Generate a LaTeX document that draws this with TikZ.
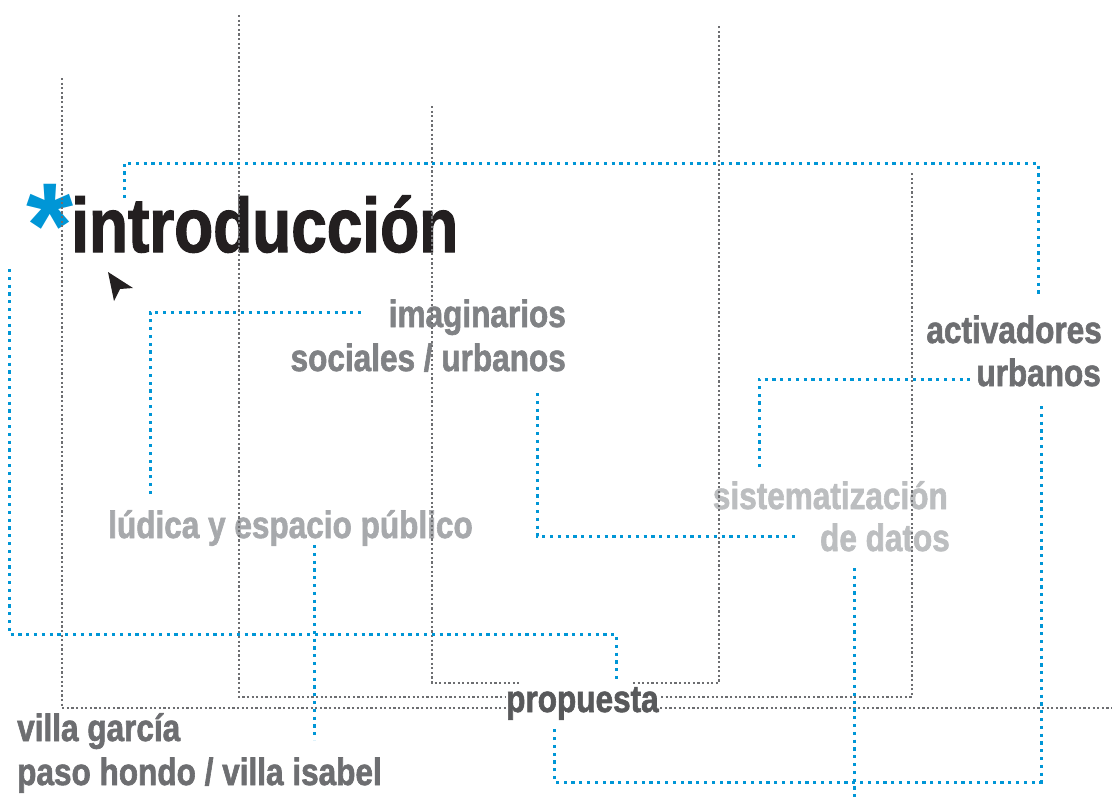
\documentclass[tikz,border=0pt]{standalone}
\usepackage{fontspec}
\newfontfamily\condbf{Liberation Sans Bold}[FakeStretch=0.83, FakeBold=1.6]
\newfontfamily\plainbf{Liberation Sans Bold}

\definecolor{lineblue}{HTML}{0096D6}
\definecolor{linegray}{HTML}{6D6E71}
\definecolor{titleblack}{HTML}{231F20}
\definecolor{graymid}{HTML}{808285}
\definecolor{graydark}{HTML}{6D6E71}
\definecolor{graylight}{HTML}{A7A9AC}
\definecolor{graypale}{HTML}{BCBEC0}
\definecolor{grayprop}{HTML}{58595B}

\begin{document}
\begin{tikzpicture}[x=1pt, y=-1pt]
	\tikzstyle{topic} = [
		inner sep=0, font=\condbf\fontsize{38}{38}\selectfont
	]
	\tikzstyle{title} = [
		inner sep=0, text=titleblack, font=\condbf\fontsize{77}{77}\selectfont
	]
	\tikzstyle{grayline} = [
		draw=linegray, line width=2.2pt, dash pattern=on 2.2pt off 2.4pt
	]
	\tikzstyle{blueline} = [
		draw=lineblue, line width=3pt, dash pattern=on 3.2pt off 4.6pt
	]

	\useasboundingbox (0,0) rectangle (1112,803);

	% Title
	\node (Star) [inner sep=0, text=lineblue, font=\plainbf\fontsize{121}{121}\selectfont, anchor=base west] at (26,267) {*};
	\node (Intro) [title, anchor=base west] at (71,252) {introducción};
	\fill[titleblack] (108,272) -- (133,288) -- (120,289) -- (114,301) -- cycle;

	% Topics
	\node (Imag1) [topic, text=graymid, anchor=base east] at (566,327) {imaginarios};
	\node (Imag2) [topic, text=graymid, anchor=base east] at (566,371) {sociales / urbanos};
	\node (Activ1) [topic, text=graydark, anchor=base east] at (1102,343) {activadores};
	\node (Activ2) [topic, text=graydark, anchor=base east] at (1101,386) {urbanos};
	\node (Ludica) [topic, text=graylight, anchor=base west] at (108,538) {lúdica y espacio público};
	\node (Sist1) [topic, text=graypale, anchor=base east] at (948,509) {sistematización};
	\node (Sist2) [topic, text=graypale, anchor=base east] at (950,551) {de datos};
	\node (Villa1) [topic, text=graydark, anchor=base west] at (17,741) {villa garcía};
	\node (Villa2) [topic, text=graydark, anchor=base west] at (17,785) {paso hondo / villa isabel};

	% gray lines
	\coordinate (g1_top) at (62,78);
	\coordinate (g1_end) at (1112,708);
	\coordinate (g2_top) at (239,15);
	\coordinate (g2_end) at (912,173);
	\coordinate (g2_low) at (912,697);
	\coordinate (g3_top) at (432,106);
	\coordinate (g3_cut) at (519,683);
	\coordinate (g3_resume) at (633,683);
	\coordinate (g3_end) at (719,26);
	\draw[grayline] (g1_top) |- (g1_end);
	\draw[grayline] (g2_top) |- (g2_low) -- (g2_end);
	\draw[grayline] (g3_top) |- (g3_cut);
	\draw[grayline] (g3_resume) -| (g3_end);

	% blue lines
	\coordinate (b1_start) at (124,198);
	\coordinate (b1_turn) at (1038,163);
	\coordinate (b1_end) at (1038,296);
	\draw[blueline] (b1_start) |- (b1_turn) -- (b1_end);

	\coordinate (b2_start) at (150,494);
	\coordinate (b2_end) at (364,312);
	\draw[blueline] (b2_start) |- (b2_end);

	\coordinate (b3_start) at (9,269);
	\coordinate (b3_turn) at (616,634);
	\coordinate (b3_end) at (616,680);
	\draw[blueline] (b3_start) |- (b3_turn) -- (b3_end);

	\coordinate (b4_start) at (537,393);
	\coordinate (b4_end) at (798,536);
	\draw[blueline] (b4_start) |- (b4_end);

	\coordinate (b5_start) at (759,467);
	\coordinate (b5_end) at (970,379);
	\draw[blueline] (b5_start) |- (b5_end);

	\coordinate (b6_start) at (1041,406);
	\coordinate (b6_turn) at (554,782);
	\coordinate (b6_end) at (554,725);
	\draw[blueline] (b6_start) |- (b6_turn) -- (b6_end);

	\coordinate (b7_start) at (314,545);
	\coordinate (b7_end) at (314,740);
	\draw[blueline] (b7_start) -- (b7_end);

	\coordinate (b8_start) at (854,568);
	\coordinate (b8_end) at (854,797);
	\draw[blueline] (b8_start) -- (b8_end);

	% Propuesta
	\node (Prop) [topic, text=grayprop, fill=white, anchor=base west] at (506,712) {propuesta};
\end{tikzpicture}
\end{document}
